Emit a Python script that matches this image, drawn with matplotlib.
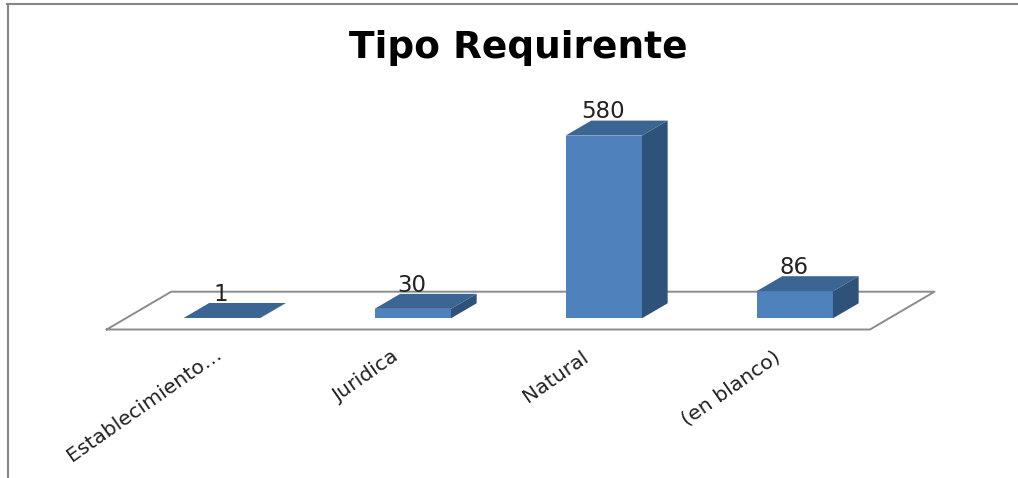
import matplotlib
matplotlib.use('Agg')
import matplotlib.pyplot as plt
import numpy as np

categories = ['Establecimiento…', 'Juridica', 'Natural', '(en blanco)']
values = [1, 30, 580, 86]
title = 'Tipo Requirente'

W, H = 1018, 478
# pixel scale of the chart: one category = 191 px, one unit = 0.315 px
x_px, y_px = 191.0, 0.315
x0_px, y0_px = 221.75, 318.3
bar_w = 0.4
depth_x = 25.7 / x_px
depth_y = 15.0 / y_px

FRONT = '#4F81BD'
TOP = '#3B6592'
SIDE = '#2F527A'
GRAY = '#8C8C8C'

fig = plt.figure(figsize=(W / 100, H / 100), dpi=100)
ax = fig.add_axes([0, 0, 1, 1])
ax.set_xlim(-x0_px / x_px, (W - x0_px) / x_px)
ax.set_ylim(-(H - y0_px) / y_px, y0_px / y_px)
ax.axis('off')

# floor of the 3D chart
fl = -11.2 / y_px
bk = 26.6 / y_px
xl = (106.7 - x0_px) / x_px
xr = (870 - x0_px) / x_px
skew = 64.5 / x_px
ax.plot([xl, xr, xr + skew, xl + skew, xl], [fl, fl, bk, bk, fl], color=GRAY, lw=1.4, zorder=1)

xs = np.arange(len(categories))
ax.bar(xs, values, width=bar_w, color=FRONT, linewidth=0, zorder=3)
for x, v in zip(xs, values):
    l, r = x - bar_w / 2, x + bar_w / 2
    ax.fill([l, r, r + depth_x, l + depth_x], [v, v, v + depth_y, v + depth_y], color=TOP, lw=0, zorder=3)
    ax.fill([r, r + depth_x, r + depth_x, r], [0, depth_y, v + depth_y, v], color=SIDE, lw=0, zorder=3)
    ax.annotate(str(v), (x, v + depth_y), xytext=(-0.5, -2), textcoords='offset points', ha='center', va='bottom',
                fontsize=16.5, family='DejaVu Sans', color='#222222', zorder=4)
    # the truncated first label sits further right than the others
    off = (-5.5, -10.5) if x == 0 else (-16, -13)
    ax.annotate(categories[x], (x, fl), xytext=off, textcoords='offset points', ha='right', va='top',
                rotation=35, rotation_mode='anchor', fontsize=14.7, family='DejaVu Sans', color='#222222')

ax.text((348 + 688) / 2 / W, 1 - 58 / H, title, transform=ax.transAxes, ha='center', va='baseline',
        fontsize=27, fontweight='bold', family='DejaVu Sans', color='black')

# chart frame, only left and top edges are in the crop
fig.add_artist(plt.Line2D([7.5 / W, 7.5 / W], [0, 1 - 4 / H], color='#868686', lw=1.5))
fig.add_artist(plt.Line2D([6.5 / W, 1], [1 - 4 / H, 1 - 4 / H], color='#868686', lw=1.5))

fig.savefig('out.png', dpi=100, facecolor='white')
